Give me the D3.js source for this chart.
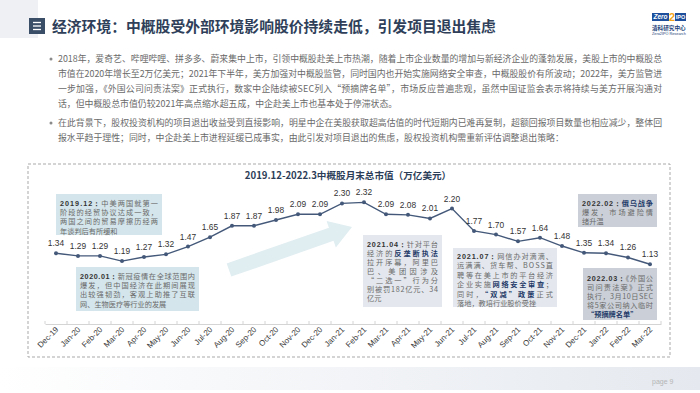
<!DOCTYPE html>
<html>
<head>
<meta charset="utf-8">
<script src="https://cdn.jsdelivr.net/npm/d3@7"></script>
<style>
  html, body { margin: 0; padding: 0; background: #fff; }
  svg { display: block; }
</style>
</head>
<body>
<div id="chart"></div>
<script>
'use strict';

// ---- data ----
const months = ['Dec-19', 'Jan-20', 'Feb-20', 'Mar-20', 'Apr-20', 'May-20', 'Jun-20', 'Jul-20',
    'Aug-20', 'Sep-20', 'Oct-20', 'Nov-20', 'Dec-20', 'Jan-21', 'Feb-21', 'Mar-21', 'Apr-21',
    'May-21', 'Jun-21', 'Jul-21', 'Aug-21', 'Sep-21', 'Oct-21', 'Nov-21', 'Dec-21', 'Jan-22',
    'Feb-22', 'Mar-22'];
const marketCap = [1.34, 1.29, 1.29, 1.19, 1.27, 1.32, 1.47, 1.65, 1.87, 1.87, 1.98, 2.09, 2.09,
    2.30, 2.32, 2.09, 2.08, 2.01, 2.20, 1.77, 1.70, 1.57, 1.64, 1.48, 1.35, 1.34, 1.26, 1.13];

const pageTitle = '经济环境：中概股受外部环境影响股价持续走低，引发项目退出焦虑';
const chartTitle = '2019.12-2022.3中概股月末总市值（万亿美元）';

const bullets = [
    ['2018年，爱奇艺、哔哩哔哩、拼多多、蔚来集中上市，引领中概股赴美上市热潮，随着上市企业数量的增加与新经济企业的蓬勃发展，美股上市的中概股总',
     '市值在2020年增长至2万亿美元；2021年下半年，美方加强对中概股监管，同时国内也开始实施网络安全审查，中概股股价有所波动；2022年，美方监管进',
     '一步加强，《外国公司问责法案》正式执行，数家中企陆续被SEC列入“预摘牌名单”，市场反应普遍悲观，虽然中国证监会表示将持续与美方开展沟通对',
     '话，但中概股总市值仍较2021年高点缩水超五成，中企赴美上市也基本处于停滞状态。'],
    ['在此背景下，股权投资机构的项目退出收益受到直接影响，明星中企在美股获取超高估值的时代短期内已难再复制，超额回报项目数量也相应减少，整体回',
     '报水平趋于理性；同时，中企赴美上市进程延缓已成事实，由此引发对项目退出的焦虑，股权投资机构需重新评估调整退出策略：']
];

// *...* = date header, #...# = highlighted keyword
const noteTexts = [
    ['*2019.12：*中美两国就第一', '阶段的经贸协议达成一致，', '两国之间的贸易摩擦历经两', '年谈判后有所缓和'],
    ['*2020.01：*新冠疫情在全球范围内', '爆发，但中国经济在此期间展现', '出较强韧劲，客观上助推了互联', '网、生物医疗等行业的发展'],
    ['*2021.04：*针对平台', '经济的#反垄断执法#', '拉开序幕，阿里巴', '巴、美团因涉及', '“二选一”行为分', '别被罚182亿元、34', '亿元'],
    ['*2021.07：*网信办对滴滴、', '运满满、货车帮、BOSS直', '聘等在美上市的平台经济', '企业实施#网络安全审查#；', '同时，#“双减”政策#正式', '落地，教培行业股价受挫'],
    ['*2022.02：*#俄乌战争#', '爆发，市场避险情', '绪升温'],
    ['*2022.03：*《外国公', '司问责法案》正式', '执行，3月10日SEC', '将5家公司纳入临时', '#“预摘牌名单”#']
];

// ---- layout ----
const W = 700, H = 393;
const noteBoxes = [
    { x: 56, y: 194, w: 106, h: 41, fill: '#d4e5eb', top: 203, lh: 9.2 },
    { x: 76, y: 267, w: 123, h: 44, fill: '#d4e5eb', top: 276, lh: 9.2 },
    { x: 363, y: 235, w: 79, h: 72, fill: '#e4e8ee', top: 244, lh: 9.0 },
    { x: 453, y: 248, w: 104, h: 59, fill: '#e4e8ee', top: 256, lh: 9.4 },
    { x: 578, y: 194, w: 79, h: 33, fill: '#cbd0d8', top: 203, lh: 9.2 },
    { x: 583, y: 268, w: 74, h: 52, fill: '#cbd0d8', top: 278, lh: 9.0 }
];

const svg = d3.select('#chart').append('svg')
    .attr('width', W)
    .attr('height', H)
    .attr('viewBox', `0 0 ${W} ${H}`);

const cjk = '"Noto Sans CJK SC", "Noto Sans", sans-serif';
const latin = '"Liberation Sans", Arial, sans-serif';

const defs = svg.append('defs');
const grad = defs.append('linearGradient').attr('id', 'foot').attr('x1', 0).attr('x2', 1);
grad.append('stop').attr('offset', 0).attr('stop-color', '#ffffff');
grad.append('stop').attr('offset', 1).attr('stop-color', '#e5e9ef');

// header
svg.append('rect').attr('x', 0).attr('y', 0).attr('width', 38).attr('height', 38).attr('fill', '#eef0f4');
svg.append('rect').attr('x', 29).attr('y', 18).attr('width', 16).attr('height', 16).attr('fill', '#3b4e68');
[22.5, 26, 29.5].forEach(yy => {
    svg.append('line').attr('x1', 33).attr('x2', 41).attr('y1', yy).attr('y2', yy)
        .attr('stroke', '#fff').attr('stroke-width', 1.3);
});
svg.append('text')
    .attr('x', 52).attr('y', 32)
    .attr('font-family', cjk).attr('font-weight', 700).attr('font-size', 14.8)
    .attr('fill', '#2f3f5a')
    .text(pageTitle);

// logo
const logo = svg.append('g');
logo.append('rect').attr('x', 652).attr('y', 13).attr('width', 17).attr('height', 8).attr('fill', '#1d4f9c');
logo.append('text').attr('x', 660.5).attr('y', 19.3).attr('text-anchor', 'middle')
    .attr('font-family', latin).attr('font-style', 'italic').attr('font-weight', 700)
    .attr('font-size', 6.5).attr('fill', '#fff').text('Zero');
logo.append('text').attr('x', 672).attr('y', 21).attr('text-anchor', 'middle')
    .attr('font-family', latin).attr('font-weight', 700).attr('font-size', 11).attr('fill', '#f2a51a').text('2');
logo.append('rect').attr('x', 675).attr('y', 13).attr('width', 11).attr('height', 8).attr('fill', '#1d4f9c');
logo.append('text').attr('x', 680.5).attr('y', 19.3).attr('text-anchor', 'middle')
    .attr('font-family', latin).attr('font-weight', 700).attr('font-size', 5.5).attr('fill', '#fff').text('IPO');
logo.append('text').attr('x', 652).attr('y', 30).attr('font-family', cjk).attr('font-weight', 700)
    .attr('font-size', 5.6).attr('fill', '#1d3f7a').text('清科研究中心');
logo.append('text').attr('x', 652).attr('y', 35).attr('font-family', latin)
    .attr('font-size', 3.8).attr('fill', '#1d3f7a').text('Zero2IPO Research');

// body paragraphs
const bodyX = 58, bodyRight = 662;
const lineYs = [[62, 77, 92, 107], [126, 141]];
bullets.forEach((para, pi) => {
    svg.append('circle').attr('cx', 51).attr('cy', lineYs[pi][0] - 3).attr('r', 1.5).attr('fill', '#8a8a8a');
    para.forEach((ln, li) => {
        const t = svg.append('text')
            .attr('x', bodyX).attr('y', lineYs[pi][li])
            .attr('font-family', cjk).attr('font-size', 8.9)
            .attr('fill', '#6a6a6a')
            .text(ln);
        if (li < para.length - 1) {
            t.attr('textLength', bodyRight - bodyX).attr('lengthAdjust', 'spacing');
        }
    });
});

// chart frame
svg.append('rect')
    .attr('x', 28).attr('y', 164).attr('width', 642).attr('height', 193)
    .attr('fill', 'none').attr('stroke', '#a9a9a9').attr('stroke-width', 1)
    .attr('stroke-dasharray', '3,2');

svg.append('text')
    .attr('x', 348).attr('y', 179).attr('text-anchor', 'middle')
    .attr('font-family', cjk).attr('font-weight', 700).attr('font-size', 9.6)
    .attr('fill', '#2c3d58')
    .text(chartTitle);

// scales
const x = d3.scaleBand().domain(months).range([45, 661]);
const y = d3.scaleLinear().domain([0, 3]).range([323, 167]);
const cx = m => x(m) + x.bandwidth() / 2;

// trend arrow (decoration)
const arrowFrom = [229, 270], arrowTo = [352, 227];
(function drawArrow() {
    const dx = arrowTo[0] - arrowFrom[0], dy = arrowTo[1] - arrowFrom[1];
    const len = Math.hypot(dx, dy);
    const ux = dx / len, uy = dy / len, nx = -uy, ny = ux;
    const sw = 7, hw = 14, hl = 22;
    const bx = arrowTo[0] - ux * hl, by = arrowTo[1] - uy * hl;
    const pts = [
        [arrowFrom[0] + nx * sw, arrowFrom[1] + ny * sw],
        [bx + nx * sw, by + ny * sw],
        [bx + nx * hw, by + ny * hw],
        arrowTo,
        [bx - nx * hw, by - ny * hw],
        [bx - nx * sw, by - ny * sw],
        [arrowFrom[0] - nx * sw, arrowFrom[1] - ny * sw]
    ];
    svg.append('polygon').attr('points', pts.map(p => p.join(',')).join(' '))
        .attr('fill', '#e0edf1');
})();

// x axis
const xAxis = svg.append('g')
    .attr('transform', 'translate(0,324)')
    .call(d3.axisBottom(x).tickSize(0).tickPadding(0));
xAxis.select('.domain').attr('stroke', '#d4d4d4');
xAxis.selectAll('text')
    .attr('font-family', latin).attr('font-size', 8).attr('fill', '#3a3a3a')
    .attr('text-anchor', 'end')
    .attr('dy', null)
    .attr('transform', 'translate(3,6) rotate(-45)');
svg.append('g').selectAll('line')
    .data(months.concat(['end']))
    .join('line')
    .attr('x1', (d, i) => 45 + i * x.bandwidth())
    .attr('x2', (d, i) => 45 + i * x.bandwidth())
    .attr('y1', 324).attr('y2', 321)
    .attr('stroke', '#d4d4d4');

// line and markers
const line = d3.line().x((d, i) => cx(months[i])).y(d => y(d));
svg.append('path').datum(marketCap)
    .attr('d', line)
    .attr('fill', 'none').attr('stroke', '#44597a').attr('stroke-width', 1.4);
svg.append('g').selectAll('circle')
    .data(marketCap)
    .join('circle')
    .attr('cx', (d, i) => cx(months[i]))
    .attr('cy', d => y(d))
    .attr('r', 2)
    .attr('fill', '#44597a');
svg.append('g').selectAll('text')
    .data(marketCap)
    .join('text')
    .attr('x', (d, i) => cx(months[i]))
    .attr('y', d => y(d) - 7)
    .attr('text-anchor', 'middle')
    .attr('font-family', latin).attr('font-size', 8.4).attr('fill', '#333')
    .text(d => d.toFixed(2));

// annotation boxes
noteTexts.forEach((lines, ni) => {
    const b = noteBoxes[ni];
    const g = svg.append('g');
    g.append('rect').attr('x', b.x).attr('y', b.y).attr('width', b.w).attr('height', b.h).attr('fill', b.fill);
    lines.forEach((ln, li) => {
        const t = g.append('text')
            .attr('x', b.x + 4).attr('y', b.top + li * b.lh + 3)
            .attr('font-family', cjk).attr('font-size', 7.2);
        ln.split(/(\*[^*]+\*|#[^#]+#)/).filter(s => s).forEach(part => {
            const ts = t.append('tspan');
            if (part[0] === '*') {
                ts.text(part.slice(1, -1)).attr('font-family', latin).attr('font-weight', 700).attr('fill', '#333');
            } else if (part[0] === '#') {
                ts.text(part.slice(1, -1)).attr('font-weight', 700).attr('fill', '#1f3a68');
            } else {
                ts.text(part).attr('fill', '#6a6a6a');
            }
        });
        if (li < lines.length - 1) {
            t.attr('textLength', b.w - 8).attr('lengthAdjust', 'spacing');
        }
    });
});

// footer
svg.append('rect').attr('x', 0).attr('y', 367).attr('width', W).attr('height', 23).attr('fill', 'url(#foot)');
svg.append('text').attr('x', 652).attr('y', 384)
    .attr('font-family', latin).attr('font-size', 7).attr('fill', '#b5b5b5')
    .text('page   9');
</script>
</body>
</html>
